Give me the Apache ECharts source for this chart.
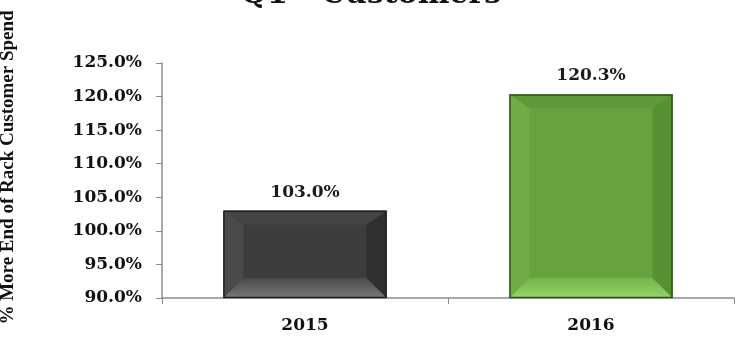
<!DOCTYPE html>
<html>
<head>
<meta charset="utf-8">
<script src="https://cdn.jsdelivr.net/npm/echarts@6/dist/echarts.min.js"></script>
<style>
  html, body { margin: 0; padding: 0; background: #ffffff; }
  #chart { width: 742px; height: 340px; }
</style>
</head>
<body>
<div id="chart"></div>
<script>
// Share of end-of-rack customer spend, by year
const categories = ['2015', '2016'];
const spendValues = [103.0, 120.3];
const axisMin = 90;
const axisMax = 125;
const axisStep = 5;

// Bevelled bar shading per year: face, top, left, right, bottom (light→dark), outline
const bevelPalettes = [
  { face: '#3d3d3d', top: '#444444', left: '#4a4a4a', right: '#303030', bottomA: '#777777', bottomB: '#4a4a4a', edge: '#1f1f1f' },
  { face: '#66a23e', top: '#5f9939', left: '#6fac46', right: '#578f33', bottomA: '#95d468', bottomB: '#74b349', edge: '#2e5419' }
];

const serif = 'DejaVu Serif';

function renderBevelBar(params, api) {
  const idx = params.dataIndex;
  const val = api.value(1);
  const topPt = api.coord([idx, val]);
  const basePt = api.coord([idx, axisMin]);
  const bw = api.size([1, 0])[0] * 0.57;
  const x0 = topPt[0] - bw / 2, x1 = x0 + bw;
  const y0 = topPt[1], y1 = basePt[1];
  const h = y1 - y0;
  const bs = Math.min(20, bw / 4);
  const bt = Math.min(14, h / 4);
  const bb = Math.min(20, h / 4);
  const p = bevelPalettes[idx % bevelPalettes.length];
  const poly = (pts, fill) => ({ type: 'polygon', shape: { points: pts }, style: { fill: fill } });
  return {
    type: 'group',
    children: [
      { type: 'rect', shape: { x: x0, y: y0, width: bw, height: h }, style: { fill: p.face } },
      poly([[x0, y0], [x1, y0], [x1 - bs, y0 + bt], [x0 + bs, y0 + bt]], p.top),
      poly([[x0, y0], [x0 + bs, y0 + bt], [x0 + bs, y1 - bb], [x0, y1]], p.left),
      poly([[x1, y0], [x1 - bs, y0 + bt], [x1 - bs, y1 - bb], [x1, y1]], p.right),
      poly([[x0, y1], [x1, y1], [x1 - bs, y1 - bb], [x0 + bs, y1 - bb]],
        new echarts.graphic.LinearGradient(0, 1, 0, 0, [
          { offset: 0, color: p.bottomA },
          { offset: 1, color: p.bottomB }
        ])),
      { type: 'rect', shape: { x: x0 + 0.5, y: y0 + 0.5, width: bw - 1, height: h - 1 },
        style: { fill: 'none', stroke: p.edge, lineWidth: 1.5 } },
      { type: 'text', x: topPt[0], y: y0 - 10,
        style: { text: val.toFixed(1) + '%', align: 'center', verticalAlign: 'bottom',
                 font: 'bold 17px "' + serif + '"', fill: '#1a1a1a' } }
    ]
  };
}

const chart = echarts.init(document.getElementById('chart'), null, { renderer: 'canvas' });
chart.setOption({
  animation: false,
  backgroundColor: '#ffffff',
  title: {
    text: 'Q1 - Customers',
    left: 'center',
    top: -25,
    textStyle: { fontFamily: serif, fontWeight: 'bold', fontSize: 30, color: '#111' }
  },
  grid: { left: 162, right: 8, top: 63, bottom: 42, containLabel: false, outerBoundsMode: 'none' },
  xAxis: {
    type: 'category',
    data: categories,
    axisLine: { lineStyle: { color: '#8c8c8c', width: 1.5 } },
    axisTick: { show: true, length: 6, lineStyle: { color: '#8c8c8c' } },
    axisLabel: { margin: 19, fontFamily: serif, fontWeight: 'bold', fontSize: 17, color: '#111' }
  },
  yAxis: {
    type: 'value',
    min: axisMin,
    max: axisMax,
    interval: axisStep,
    name: '% More End of Rack Customer Spend',
    nameLocation: 'middle',
    nameRotate: 90,
    nameGap: 144,
    nameTextStyle: { fontFamily: 'Liberation Serif', fontWeight: 'bold', fontSize: 19, color: '#111', padding: [0, 0, 0, 26] },
    splitLine: { show: false },
    axisLine: { show: true, lineStyle: { color: '#8c8c8c', width: 1.5 } },
    axisTick: { show: true, length: 6, lineStyle: { color: '#8c8c8c' } },
    axisLabel: {
      margin: 20,
      fontFamily: serif, fontWeight: 'bold', fontSize: 17, color: '#111',
      formatter: v => v.toFixed(1) + '%'
    }
  },
  series: [{
    type: 'custom',
    renderItem: renderBevelBar,
    data: spendValues.map((v, i) => [i, v]),
    encode: { x: 0, y: 1 }
  }]
});
</script>
</body>
</html>
